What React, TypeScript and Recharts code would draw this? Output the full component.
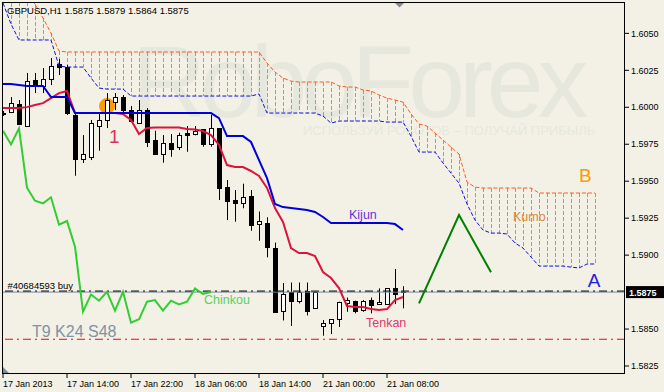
import {
    ComposedChart, Bar, Line, XAxis, YAxis,
    ReferenceLine, ReferenceDot
} from "recharts"

const BG = "#f3f1e6"
const FONT = "'Liberation Sans', Arial, sans-serif"

// GBPUSD H1 candles, 17 Jan 06:00 .. 21 Jan 10:00
const opens = [
    1.59954, 1.59966, 1.60022, 1.59875, 1.60184, 1.60146, 1.60189, 1.60292, 1.60274, 1.59948,
    1.59650, 1.59663, 1.59875, 1.59914, 1.60035, 1.60069, 1.59981, 1.59895, 1.59981, 1.59778,
    1.59682, 1.59760, 1.59729, 1.59824, 1.59817, 1.59851, 1.59749, 1.59858, 1.59461, 1.59373,
    1.59350, 1.59400, 1.59208, 1.59219, 1.59046, 1.58622, 1.58752, 1.58692, 1.58757, 1.58640,
    1.58518, 1.58539, 1.58566, 1.58678, 1.58692, 1.58627, 1.58696, 1.58667, 1.58667, 1.58775,
    1.5875,
]
const highs = [
    1.59975, 1.60069, 1.60049, 1.60232, 1.60232, 1.60265, 1.60333, 1.60326, 1.60286, 1.59955,
    1.59812, 1.59914, 1.59961, 1.60096, 1.60096, 1.60083, 1.60008, 1.60049, 1.59995, 1.59841,
    1.59812, 1.59819, 1.59828, 1.59873, 1.59873, 1.59851, 1.59948, 1.59858, 1.59508, 1.59440,
    1.59483, 1.59440, 1.59295, 1.59256, 1.59085, 1.58811, 1.58815, 1.58815, 1.58815, 1.58752,
    1.58561, 1.58566, 1.58685, 1.58713, 1.58692, 1.58696, 1.58713, 1.58775, 1.58775, 1.58906,
    1.5879,
]
const lows = [
    1.59941, 1.59961, 1.59880, 1.59875, 1.60096, 1.60096, 1.60150, 1.60218, 1.59948, 1.59537,
    1.59623, 1.59643, 1.59706, 1.59860, 1.59981, 1.59955, 1.59907, 1.59895, 1.59731, 1.59682,
    1.59625, 1.59665, 1.59711, 1.59699, 1.59810, 1.59733, 1.59733, 1.59373, 1.59237, 1.59226,
    1.59317, 1.59165, 1.59097, 1.58985, 1.58617, 1.58558, 1.58521, 1.58673, 1.58592, 1.58640,
    1.58455, 1.58466, 1.58514, 1.58617, 1.58606, 1.58617, 1.58606, 1.58667, 1.58663, 1.58669,
    1.5864,
]
const closes = [
    1.59961, 1.60027, 1.59887, 1.60179, 1.60150, 1.60189, 1.60279, 1.60270, 1.59959, 1.59650,
    1.59684, 1.59893, 1.59914, 1.60049, 1.60069, 1.59981, 1.59909, 1.59981, 1.59767, 1.59682,
    1.59758, 1.59716, 1.59812, 1.59810, 1.59841, 1.59749, 1.59858, 1.59456, 1.59368, 1.59350,
    1.59391, 1.59206, 1.59231, 1.59057, 1.58617, 1.58734, 1.58692, 1.58752, 1.58624, 1.58752,
    1.58543, 1.58566, 1.58685, 1.58696, 1.58624, 1.58692, 1.58666, 1.58685, 1.58775, 1.58737,
    1.5875,
]

const tenkan = [
    1.59995, 1.59995, 1.59995, 1.60001, 1.60015, 1.60028, 1.60062, 1.60096, 1.60110, 1.59961,
    1.59961, 1.59961, 1.59961, 1.59961, 1.59961, 1.59955, 1.59914, 1.59819, 1.59860, 1.59863,
    1.59863, 1.59863, 1.59863, 1.59853, 1.59849, 1.59839, 1.59812, 1.59745, 1.59609, 1.59596,
    1.59596, 1.59569, 1.59535, 1.59454, 1.59318, 1.59224, 1.59048, 1.59014, 1.59014, 1.58994,
    1.58886, 1.58845, 1.58777, 1.58656, 1.58649, 1.58649, 1.58635, 1.58629, 1.58635, 1.58696,
    1.58717,
]
const kijun = [
    1.60157, 1.60157, 1.60150, 1.60144, 1.60144, 1.60144, 1.60069, 1.60069, 1.60069, 1.59961,
    1.59961, 1.59961, 1.59961, 1.59961, 1.59961, 1.59961, 1.59961, 1.59961, 1.59961, 1.59961,
    1.59961, 1.59961, 1.59961, 1.59961, 1.59961, 1.59961, 1.59961, 1.59927, 1.59805, 1.59805,
    1.59805, 1.59765, 1.59643, 1.59521, 1.59346, 1.59325, 1.59318, 1.59312, 1.59305, 1.59292,
    1.59258, 1.59217, 1.59217, 1.59217, 1.59217, 1.59217, 1.59217, 1.59217, 1.59217, 1.59210,
    1.59170,
]
const chinkou = [
    1.59841, 1.59749, 1.59858, 1.59456, 1.59368, 1.59350, 1.59391, 1.59206, 1.59231, 1.59057,
    1.58617, 1.58734, 1.58692, 1.58752, 1.58624, 1.58752, 1.58543, 1.58566, 1.58685, 1.58696,
    1.58624, 1.58692, 1.58666, 1.58685, 1.58775, 1.58737, 1.5875,
]
// kumo edges, shifted forward
const spanUpper = [
    1.60861, 1.60827, 1.60793, 1.60752, 1.60698, 1.60604, 1.60502, 1.60380, 1.60374, 1.60374,
    1.60374, 1.60374, 1.60374, 1.60374, 1.60374, 1.60374, 1.60374, 1.60374, 1.60374, 1.60374,
    1.60374, 1.60374, 1.60374, 1.60374, 1.60374, 1.60374, 1.60374, 1.60374, 1.60374, 1.60374,
    1.60374, 1.60374, 1.60374, 1.60299, 1.60238, 1.60198, 1.60177, 1.60171, 1.60171, 1.60171,
    1.60171, 1.60171, 1.60144, 1.60137, 1.60137, 1.60117, 1.60110, 1.60083, 1.60062, 1.60049,
    1.60035, 1.59955, 1.59887, 1.59873, 1.59826, 1.59778, 1.59731, 1.59684, 1.59494, 1.59460,
    1.59454, 1.59454, 1.59454, 1.59454, 1.59454, 1.59454, 1.59454, 1.59420, 1.59420, 1.59420,
    1.59420, 1.59420, 1.59420, 1.59420, 1.59420,
]
const spanLower = [
    1.60705, 1.60563, 1.60455, 1.60455, 1.60455, 1.60455, 1.60455, 1.60279, 1.60272, 1.60272,
    1.60272, 1.60198, 1.60130, 1.60123, 1.60123, 1.60123, 1.60076, 1.60076, 1.60076, 1.60076,
    1.60076, 1.60076, 1.60076, 1.60076, 1.60076, 1.60076, 1.60076, 1.60076, 1.60076, 1.60076,
    1.60076, 1.60076, 1.60090, 1.59961, 1.59961, 1.59961, 1.59961, 1.59961, 1.59961, 1.59961,
    1.59941, 1.59893, 1.59907, 1.59907, 1.59907, 1.59907, 1.59907, 1.59907, 1.59900, 1.59900,
    1.59900, 1.59805, 1.59697, 1.59697, 1.59697, 1.59623, 1.59555, 1.59487, 1.59346, 1.59237,
    1.59170, 1.59149, 1.59149, 1.59143, 1.59082, 1.59048, 1.58987, 1.58926, 1.58926, 1.58926,
    1.58926, 1.58919, 1.58913, 1.58940, 1.58940,
]
// hand-drawn forecast zigzag: [bar, price]
const zigzag = [[52, 1.58674], [57, 1.59271], [61, 1.58884]]

const timeTicks = [0, 8, 16, 24, 32, 40, 48]
const timeLabels = [
    "17 Jan 2013", "17 Jan 14:00", "17 Jan 22:00", "18 Jan 06:00",
    "18 Jan 14:00", "21 Jan 00:00", "21 Jan 08:00",
]
// 1.5875 is shown by the current-price tag instead of a plain tick
const priceTicks = [1.5825, 1.585, 1.59, 1.5925, 1.595, 1.5975, 1.6, 1.6025, 1.605]
const lastPrice = 1.5875
const orderPrice = 1.58757
const stopPrice = 1.58431
const signalBar = 13
const signalPrice = 1.60008

const notes = [
    { text: "Kijun", at: 43.25, price: 1.59241, color: "#6633dd", size: 12.5 },
    { text: "Tenkan", at: 45.375, price: 1.58512, color: "#e0356b", size: 12.5 },
    { text: "Chinkou", at: 25.125, price: 1.58669, color: "#5ccf5c", size: 12.5 },
    { text: "Kumo", at: 63.75, price: 1.5923, color: "#d88a3c", size: 12.5 },
    { text: "B", at: 72.0, price: 1.59496, color: "#ff9900", size: 19 },
    { text: "A", at: 73.1, price: 1.58786, color: "#2020e0", size: 19 },
    { text: "1", at: 13.25, price: 1.5976, color: "#e03060", size: 19 },
    { text: "T9 K24 S48", at: 3.625, price: 1.58448, color: "#8092a6", size: 16 },
    { text: "#40684593 buy", at: 0.56, price: 1.58771, color: "#000", size: 9.5 },
]

const X_DOMAIN = [-0.125, 77.75]
const Y_DOMAIN = [1.58196, 1.60712]

const data = spanUpper.map((up, i) => {
    const row: any = { i, upper: up, lower: spanLower[i], cloud: [spanLower[i], up] }
    if (i < opens.length) {
        row.o = opens[i]; row.h = highs[i]; row.l = lows[i]; row.c = closes[i]
        row.candle = [lows[i], highs[i]]
        row.tenkan = tenkan[i]
        row.kijun = kijun[i]
    }
    if (i < chinkou.length) row.chinkou = chinkou[i]
    return row
})
zigzag.forEach(([i, v]) => { data[i].zig = v })

const Candle = (props: any) => {
    const { x, y, width, height, payload } = props
    if (!payload || payload.o == null) return null
    const top = Math.min(y, y + height)
    const span = Math.abs(height)
    const { o, h, l, c } = payload
    const k = span / (h - l)
    const py = (p: number) => top + (h - p) * k
    const cx = Math.round(x + width / 2)
    const b1 = Math.round(py(Math.max(o, c)))
    const b2 = Math.round(py(Math.min(o, c)))
    return (
        <g>
            <line x1={cx + 0.5} x2={cx + 0.5} y1={top} y2={top + span} stroke="#000" />
            {b2 - b1 >= 1 ? (
                <rect x={cx - 1.5} y={b1 + 0.5} width={4} height={b2 - b1}
                    fill={c >= o ? "#fff" : "#000"} stroke="#000" />
            ) : (
                <line x1={cx - 2} x2={cx + 3} y1={b1 + 0.5} y2={b1 + 0.5} stroke="#000" />
            )}
        </g>
    )
}

const Hatch = (props: any) => {
    const { x, y, width, height } = props
    const cx = Math.round(x + width / 2) + 0.5
    const top = Math.min(y, y + height)
    return <line x1={cx} x2={cx} y1={top} y2={top + Math.abs(height)}
        stroke="#f58050" strokeDasharray="4 2" />
}

const TimeTick = ({ x, y, payload }: any) => (
    <text x={x} y={y} dy={7} fontSize={9} fontFamily={FONT} fill="#000">
        {timeLabels[timeTicks.indexOf(payload.value)]}
    </text>
)

const PriceTick = ({ x, y, payload }: any) => (
    <text x={x} y={y} dy={3.2} fontSize={9} fontFamily={FONT} fill="#000">
        {Number(payload.value).toFixed(4)}
    </text>
)

export default function App() {
    return (
        <div style={{ position: "absolute", left: 0, top: 0, width: 664, height: 392, background: BG, overflow: "hidden" }}>
            {/* watermark */}
            <svg width={664} height={392} style={{ position: "absolute", left: 0, top: 0 }}>
                <text x={132} y={117} fontSize={102} fontFamily={FONT} fill="#e7e8dd" letterSpacing={-6}>
                    RoboForex
                </text>
                <text x={303} y={135} fontSize={13} fontFamily={FONT} fill="#e7e8dd">
                    ИСПОЛЬЗУЙ РОБОТОВ – ПОЛУЧАЙ ПРИБЫЛЬ
                </text>
            </svg>

            <div style={{ position: "absolute", left: 0, top: 0 }}>
                <ComposedChart width={664} height={392} data={data}
                    margin={{ top: 2, right: 0, bottom: 0, left: 2 }}>
                    <XAxis dataKey="i" type="number" domain={X_DOMAIN} allowDataOverflow
                        ticks={timeTicks} interval={0} tick={<TimeTick />}
                        height={18} tickSize={4} axisLine={false} tickLine={{ stroke: "#000" }} />
                    <XAxis xAxisId="hatch" dataKey="i" type="number" domain={X_DOMAIN}
                        allowDataOverflow hide />
                    <YAxis orientation="right" type="number" domain={Y_DOMAIN} allowDataOverflow
                        ticks={priceTicks} interval={0} tick={<PriceTick />} width={39}
                        tickSize={4} tickMargin={2} axisLine={false} tickLine={{ stroke: "#000" }} />

                    <Bar xAxisId="hatch" dataKey="cloud" barSize={5} shape={<Hatch />}
                        isAnimationActive={false} />
                    <Line dataKey="upper" stroke="#ff5b1f" strokeWidth={1} strokeDasharray="4 2"
                        dot={false} isAnimationActive={false} />
                    <Line dataKey="lower" stroke="#1010e0" strokeWidth={1} strokeDasharray="4 2"
                        dot={false} isAnimationActive={false} />

                    <ReferenceLine y={stopPrice} stroke="#ff0000" strokeDasharray="8 4 2 4" />
                    <ReferenceLine y={lastPrice} stroke="#778899" />
                    <ReferenceLine y={orderPrice} stroke="#000" strokeDasharray="8 4 2 4" />
                    <ReferenceDot x={signalBar} y={signalPrice} r={8} fill="#ff9900" stroke="none"
                        zIndex={250} />

                    <Bar dataKey="candle" barSize={5} shape={<Candle />} isAnimationActive={false} />

                    <Line dataKey="chinkou" stroke="#32cd32" strokeWidth={2} dot={false}
                        isAnimationActive={false} />
                    <Line dataKey="tenkan" stroke="#dc143c" strokeWidth={2} dot={false}
                        isAnimationActive={false} />
                    <Line dataKey="kijun" stroke="#0000dd" strokeWidth={2} dot={false}
                        isAnimationActive={false} />
                    <Line dataKey="zig" stroke="#008000" strokeWidth={2} dot={false} connectNulls
                        isAnimationActive={false} />

                    {notes.map(n => (
                        <ReferenceDot key={n.text} x={n.at} y={n.price} r={0}
                            shape={(p: any) => (
                                <text x={p.cx} y={p.cy} fill={n.color} fontSize={n.size}
                                    fontFamily={FONT}>{n.text}</text>
                            )} />
                    ))}
                    <ReferenceDot x={X_DOMAIN[1]} y={lastPrice} r={0}
                        shape={(p: any) => (
                            <g>
                                <rect x={p.cx + 1} y={p.cy - 6} width={39} height={12} fill="#000" />
                                <text x={p.cx + 4} y={p.cy + 3.5} fill="#fff" fontSize={9}
                                    fontWeight="bold" fontFamily={FONT}>{lastPrice.toFixed(4)}</text>
                            </g>
                        )} />
                </ComposedChart>
            </div>

            {/* frame, title, shift markers */}
            <svg width={664} height={392} style={{ position: "absolute", left: 0, top: 0, pointerEvents: "none" }}>
                <rect x={2.5} y={2.5} width={622} height={371} fill="none" stroke="#000" />
                <text x={7} y={14} fontSize={9.5} fontFamily={FONT} fill="#000">
                    GBPUSD,H1  1.5875 1.5879 1.5864 1.5875
                </text>
                <polygon points="395,3 404,3 399.5,7.5" fill="#7d8a99" />
                <polygon points="3,367 3,373 9,373" fill="#7d8a99" />
            </svg>
        </div>
    )
}
